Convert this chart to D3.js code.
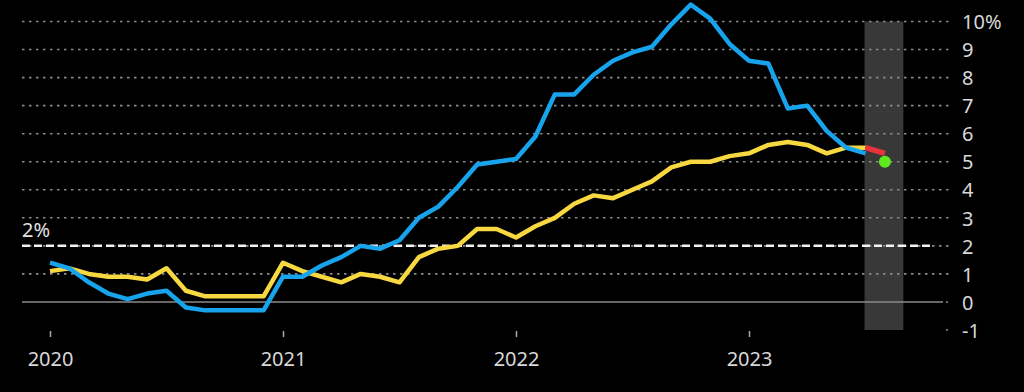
<!DOCTYPE html>
<html><head><meta charset="utf-8">
<script src="https://cdn.jsdelivr.net/npm/d3@7/dist/d3.min.js"></script>
<style>
html,body{margin:0;padding:0;background:#000;}
svg{display:block;}
text{font-family:"Noto Sans",sans-serif;}
</style></head>
<body>
<script>
// Monthly data, Jan 2020 .. Jul 2023 (month index 0 = Jan 2020)
const headline = [1.4,1.2,0.7,0.3,0.1,0.3,0.4,-0.2,-0.3,-0.3,-0.3,-0.3,
  0.9,0.9,1.3,1.6,2.0,1.9,2.2,3.0,3.4,4.1,4.9,5.0,
  5.1,5.9,7.4,7.4,8.1,8.6,8.9,9.1,9.9,10.6,10.1,9.2,
  8.6,8.5,6.9,7.0,6.1,5.5,5.3];
const core = [1.1,1.2,1.0,0.9,0.9,0.8,1.2,0.4,0.2,0.2,0.2,0.2,
  1.4,1.1,0.9,0.7,1.0,0.9,0.7,1.6,1.9,2.0,2.6,2.6,
  2.3,2.7,3.0,3.5,3.8,3.7,4.0,4.3,4.8,5.0,5.0,5.2,
  5.3,5.6,5.7,5.6,5.3,5.5,5.5];
const coreForecast = [[42,5.5],[43,5.3]];
const headlineForecast = [[43,5.0]];
const yTicks = [-1,0,1,2,3,4,5,6,7,8,9,10];
const xTicks = [0,12,24,36];
const xTickLabels = ["2020","2021","2022","2023"];
const target = 2;
const shadedRange = [41.95,43.95];

const W=1024,H=392;
const svg=d3.select("body").append("svg").attr("width",W).attr("height",H);
svg.append("rect").attr("width",W).attr("height",H).attr("fill","#000");

const x=d3.scaleLinear().domain([0,36]).range([50,749]);
const y=d3.scaleLinear().domain([-1,10]).range([330,21.5]);
const gx0=22, gx1=950;

// shaded forecast band
svg.append("rect")
  .attr("x",x(shadedRange[0])).attr("width",x(shadedRange[1])-x(shadedRange[0]))
  .attr("y",y(10)).attr("height",y(-1)-y(10))
  .attr("fill","#383838");

// gridlines
const grid=svg.append("g");
yTicks.filter(v=>v>0).forEach(v=>{
  grid.append("line").attr("x1",gx0).attr("x2",gx1).attr("y1",y(v)).attr("y2",y(v))
    .attr("stroke","#8a8a8a").attr("stroke-width",1.6).attr("stroke-dasharray","2.5,4.5");
});
grid.append("line").attr("x1",gx0).attr("x2",943).attr("y1",y(0)).attr("y2",y(0))
  .attr("stroke","#8a8a8a").attr("stroke-width",1.5);
grid.append("line").attr("x1",946).attr("x2",948).attr("y1",y(0)).attr("y2",y(0))
  .attr("stroke","#8a8a8a").attr("stroke-width",1.5);
grid.append("line").attr("x1",946).attr("x2",948).attr("y1",y(-1)).attr("y2",y(-1))
  .attr("stroke","#8a8a8a").attr("stroke-width",1.5);

// y labels
const yAxis=d3.axisRight(y).tickValues(yTicks).tickSize(0).tickPadding(0)
  .tickFormat(v=>v===10?"10%":String(v));
const ya=svg.append("g").attr("transform","translate(962,0)").call(yAxis);
ya.select(".domain").remove();
ya.selectAll("text").attr("fill","#d8d8d8").attr("font-size",20)
  .attr("font-family","Noto Sans").attr("dy","0.36em");

// target line
svg.append("line").attr("x1",gx0).attr("x2",930).attr("y1",y(target)).attr("y2",y(target))
  .attr("stroke","#f2f2f2").attr("stroke-width",2.5).attr("stroke-dasharray","8,4");
svg.append("text").attr("x",22).attr("y",237).text("2%")
  .attr("fill","#e0e0e0").attr("font-size",20);

// x axis
const xAxis=d3.axisBottom(x).tickValues(xTicks).tickSize(6).tickPadding(15)
  .tickFormat((d,i)=>xTickLabels[i]);
const xa=svg.append("g").attr("transform","translate(0,331)").call(xAxis);
xa.select(".domain").remove();
xa.selectAll("line").attr("stroke","#aaa").attr("stroke-width",1.5);
xa.selectAll("text").attr("fill","#d8d8d8").attr("font-size",20).attr("font-family","Noto Sans");

// lines
const line=d3.line().x(d=>x(d[0])).y(d=>y(d[1])).curve(d3.curveLinear);
const coreData=core.map((v,i)=>[i,v]);
const headData=headline.map((v,i)=>[i,v]);
svg.append("path").datum(coreData).attr("d",line).attr("fill","none")
  .attr("stroke","#f7d840").attr("stroke-width",4.5).attr("stroke-linejoin","round");
svg.append("path").datum(headData).attr("d",line).attr("fill","none")
  .attr("stroke","#18a4ec").attr("stroke-width",4.5).attr("stroke-linejoin","round");
svg.append("path").datum(coreForecast).attr("d",line).attr("fill","none")
  .attr("stroke","#e8323c").attr("stroke-width",5.5).attr("stroke-linecap","butt");
svg.selectAll("circle.f").data(headlineForecast).enter().append("circle")
  .attr("cx",d=>x(d[0])).attr("cy",d=>y(d[1])).attr("r",6).attr("fill","#5ee81e");
</script>
</body></html>
